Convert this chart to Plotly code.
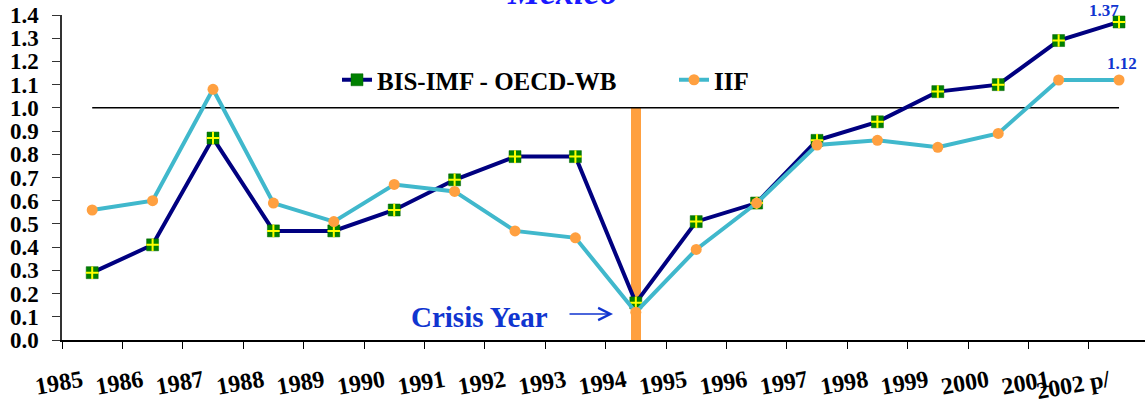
import plotly.graph_objects as go

years = ["1985", "1986", "1987", "1988", "1989", "1990", "1991", "1992", "1993",
         "1994", "1995", "1996", "1997", "1998", "1999", "2000", "2001", "2002 p/"]
bis_imf = [0.29, 0.41, 0.87, 0.47, 0.47, 0.56, 0.69, 0.79, 0.79,
           0.16, 0.51, 0.59, 0.86, 0.94, 1.07, 1.10, 1.29, 1.37]
iif = [0.56, 0.60, 1.08, 0.59, 0.51, 0.67, 0.64, 0.47, 0.44,
       0.12, 0.39, 0.59, 0.84, 0.86, 0.83, 0.89, 1.12, 1.12]
reference_level = 1.0
crisis_year = "1994"
y_ticks = [round(i * 0.1, 1) for i in range(15)]

xs = list(range(len(years)))
ci = years.index(crisis_year)
serif = "Liberation Serif"

fig = go.Figure()
fig.add_trace(go.Bar(x=[ci], y=[reference_level], width=0.17,
                     marker=dict(color="#FFA040", line=dict(width=0)),
                     showlegend=False, hoverinfo="skip"))
fig.add_trace(go.Scatter(x=[xs[0], xs[-1]], y=[reference_level] * 2, mode="lines",
                         line=dict(color="black", width=1.5), showlegend=False))
fig.add_trace(go.Scatter(x=xs, y=bis_imf, mode="lines+markers", name="BIS-IMF - OECD-WB",
                         line=dict(color="#000080", width=4),
                         marker=dict(symbol="square", size=12, color="#008000",
                                     line=dict(color="#006000", width=0.5))))
fig.add_trace(go.Scatter(x=xs, y=bis_imf, mode="markers", showlegend=False,
                         marker=dict(symbol="cross-thin", size=9,
                                     line=dict(color="#FFFF00", width=2))))
fig.add_trace(go.Scatter(x=xs, y=iif, mode="lines+markers", name="IIF",
                         line=dict(color="#40B8CC", width=4),
                         marker=dict(symbol="circle", size=11, color="#FFA040")))

fig.add_annotation(text="Mexico", xref="paper", yref="paper", x=0.4617, y=1.0,
                   xanchor="center", yanchor="bottom", showarrow=False, yshift=1,
                   font=dict(family=serif, size=36, color="#1A1AFF", weight="bold",
                             style="italic"))
fig.add_annotation(text="Crisis Year", xref="x", yref="y",
                   x=(479 - 62) / 60.4 - 0.5, y=(340 - 317) / 232.6,
                   showarrow=False, font=dict(family=serif, size=29, color="#1035D0",
                                              weight="bold"))
fig.add_annotation(text="", xref="x", yref="y", x=(613 - 62) / 60.4 - 0.5,
                   y=(340 - 314) / 232.6, ax=-45, ay=0, showarrow=True,
                   arrowhead=5, arrowsize=1.6, arrowwidth=1.5, arrowcolor="#1035D0")
fig.add_annotation(text="%.2f" % bis_imf[-1], x=xs[-1], y=bis_imf[-1], xshift=-15,
                   yshift=11, showarrow=False,
                   font=dict(family=serif, size=17, color="#1035D0", weight="bold"))
fig.add_annotation(text="%.2f" % iif[-1], x=xs[-1], y=iif[-1], xshift=3, yshift=17,
                   showarrow=False,
                   font=dict(family=serif, size=17, color="#1035D0", weight="bold"))

fig.update_layout(
    width=1145, height=411,
    margin=dict(l=62, r=0, t=15, b=71, autoexpand=False),
    plot_bgcolor="white", paper_bgcolor="white",
    showlegend=True,
    legend=dict(orientation="h", x=(337 - 62) / 1083, y=0.8, xanchor="left",
                yanchor="middle", bgcolor="rgba(0,0,0,0)",
                entrywidth=292, entrywidthmode="pixels",
                font=dict(family=serif, size=25, color="black", weight="bold")),
    bargap=0,
)
fig.update_xaxes(range=[-0.5, 17.43], tickmode="array", automargin=False,
                 tickvals=[x - 0.17 for x in xs], ticktext=years,
                 tickangle=-10, ticks="", showgrid=False, zeroline=False,
                 showline=True, linecolor="black", linewidth=1.5,
                 ticklabelstandoff=16,
                 tickfont=dict(family=serif, size=24, color="black", weight="bold"),
                 minor=dict(tickmode="array", tickvals=[x - 0.5 for x in xs],
                            ticks="outside", ticklen=7, tickcolor="black", tickwidth=1,
                            showgrid=False))
fig.update_yaxes(range=[0, 1.4], tickmode="array", tickvals=y_ticks, automargin=False,
                 ticktext=["%.1f" % v for v in y_ticks], ticks="outside",
                 ticklen=8, tickcolor="#333", showgrid=False, zeroline=False,
                 showline=True, linecolor="#333", linewidth=1.5,
                 ticklabelstandoff=9,
                 tickfont=dict(family=serif, size=23, color="black", weight="bold"))

fig.write_html("out.html", config={"displayModeBar": False},
               post_script="document.body.style.margin='0px';")
